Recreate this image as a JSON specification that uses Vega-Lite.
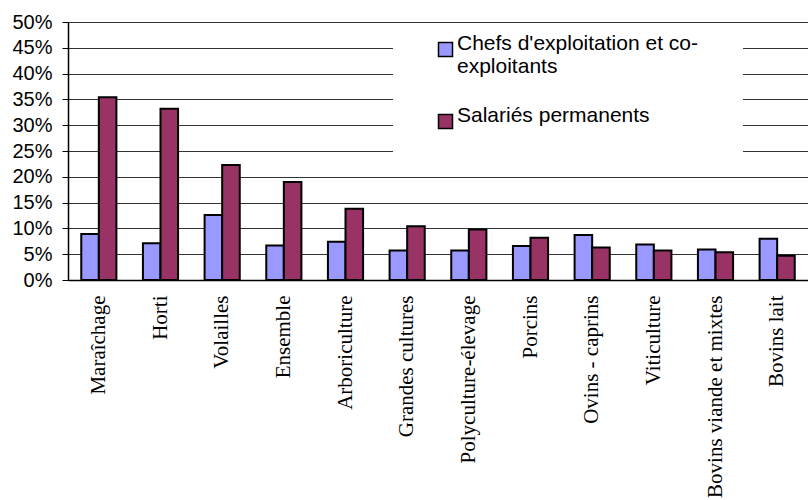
{
  "$schema": "https://vega.github.io/schema/vega-lite/v6.json",
  "width": 740,
  "height": 258,
  "autosize": "none",
  "padding": {"left": 68, "top": 22, "right": 0, "bottom": 220},
  "background": "white",
  "config": {"view": {"stroke": null}},
  "data": {
    "values": [
      {"cat": "Maraîchage", "serie": "Chefs d'exploitation et co-exploitants", "val": 0.089},
      {"cat": "Maraîchage", "serie": "Salariés permanents", "val": 0.354},
      {"cat": "Horti", "serie": "Chefs d'exploitation et co-exploitants", "val": 0.071},
      {"cat": "Horti", "serie": "Salariés permanents", "val": 0.332},
      {"cat": "Volailles", "serie": "Chefs d'exploitation et co-exploitants", "val": 0.126},
      {"cat": "Volailles", "serie": "Salariés permanents", "val": 0.223},
      {"cat": "Ensemble", "serie": "Chefs d'exploitation et co-exploitants", "val": 0.067},
      {"cat": "Ensemble", "serie": "Salariés permanents", "val": 0.19},
      {"cat": "Arboriculture", "serie": "Chefs d'exploitation et co-exploitants", "val": 0.074},
      {"cat": "Arboriculture", "serie": "Salariés permanents", "val": 0.138},
      {"cat": "Grandes cultures", "serie": "Chefs d'exploitation et co-exploitants", "val": 0.057},
      {"cat": "Grandes cultures", "serie": "Salariés permanents", "val": 0.104},
      {"cat": "Polyculture-élevage", "serie": "Chefs d'exploitation et co-exploitants", "val": 0.057},
      {"cat": "Polyculture-élevage", "serie": "Salariés permanents", "val": 0.098},
      {"cat": "Porcins", "serie": "Chefs d'exploitation et co-exploitants", "val": 0.066},
      {"cat": "Porcins", "serie": "Salariés permanents", "val": 0.082},
      {"cat": "Ovins - caprins", "serie": "Chefs d'exploitation et co-exploitants", "val": 0.087},
      {"cat": "Ovins - caprins", "serie": "Salariés permanents", "val": 0.063},
      {"cat": "Viticulture", "serie": "Chefs d'exploitation et co-exploitants", "val": 0.069},
      {"cat": "Viticulture", "serie": "Salariés permanents", "val": 0.057},
      {"cat": "Bovins viande et mixtes", "serie": "Chefs d'exploitation et co-exploitants", "val": 0.059},
      {"cat": "Bovins viande et mixtes", "serie": "Salariés permanents", "val": 0.054},
      {"cat": "Bovins lait", "serie": "Chefs d'exploitation et co-exploitants", "val": 0.08},
      {"cat": "Bovins lait", "serie": "Salariés permanents", "val": 0.047}
    ]
  },
  "mark": {"type": "bar", "stroke": "black", "strokeWidth": 2},
  "encoding": {
    "x": {
      "field": "cat",
      "type": "nominal",
      "sort": null,
      "scale": {"paddingInner": 0.43, "paddingOuter": 0.215},
      "axis": {
        "title": null,
        "labelAngle": 270,
        "labelAlign": "right",
        "labelBaseline": "middle",
        "labelFont": "Liberation Serif",
        "labelFontSize": 21,
        "labelColor": "black",
        "labelPadding": 15,
        "ticks": false,
        "domainColor": "black",
        "domainWidth": 1.5,
        "labelLimit": 300
      }
    },
    "xOffset": {"field": "serie", "type": "nominal", "sort": null},
    "y": {
      "field": "val",
      "type": "quantitative",
      "scale": {"domain": [0, 0.5], "nice": false},
      "axis": {
        "title": null,
        "values": [0, 0.05, 0.1, 0.15, 0.2, 0.25, 0.3, 0.35, 0.4, 0.45, 0.5],
        "format": "0%",
        "labelFont": "Liberation Sans",
        "labelFontSize": 20,
        "labelColor": "black",
        "labelPadding": 10,
        "tickSize": 6,
        "tickColor": "black",
        "domainColor": "black",
        "domainWidth": 1.5,
        "gridColor": "#333333",
        "gridWidth": 1
      }
    },
    "color": {
      "field": "serie",
      "type": "nominal",
      "sort": null,
      "scale": {"domain": ["Chefs d'exploitation et co-exploitants", "Salariés permanents"], "range": ["#9999FF", "#993366"]},
      "legend": {
        "title": null,
        "orient": "none",
        "legendX": 325,
        "legendY": 7,
        "padding": 10,
        "fillColor": "white",
        "strokeColor": null,
        "symbolType": "square",
        "symbolSize": 196,
        "symbolStrokeColor": "black",
        "symbolStrokeWidth": 1.5,
        "symbolOffset": 32,
        "labelFont": "Liberation Sans",
        "labelFontSize": 21,
        "labelColor": "black",
        "labelOffset": 1,
        "labelBaseline": "alphabetic",
        "labelLimit": 400,
        "rowPadding": 27,
        "labelExpr": "datum.value == 'Salariés permanents' ? ['Salariés permanents', '\u2800'] : [\"Chefs d'exploitation et co-\u00a0\u00a0\u00a0\u00a0\u00a0\u00a0\u200b\", 'exploitants']",
        "encoding": {"labels": {"update": {"dy": {"value": 7}}}}
      }
    }
  }
}
